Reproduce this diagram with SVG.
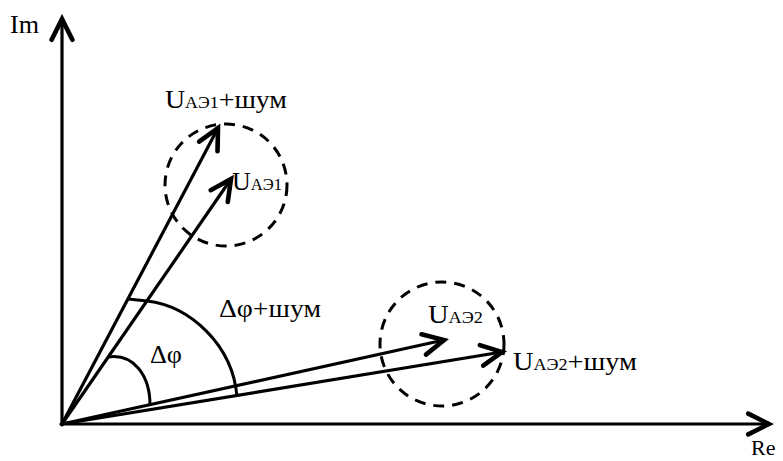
<svg xmlns="http://www.w3.org/2000/svg" width="783" height="461" viewBox="0 0 783 461">
<defs>
<style>
.ln{stroke:#000;stroke-width:3.2;fill:none;stroke-linecap:round}
.arc{stroke:#000;stroke-width:3;fill:none}
.dc{stroke:#000;stroke-width:3;fill:none;stroke-dasharray:11 8}
.t{font-family:"Liberation Serif","Times New Roman",serif;font-size:25px;fill:#000}
.s{font-size:16px}
</style>
<marker id="ah" markerUnits="userSpaceOnUse" markerWidth="30" markerHeight="30" viewBox="-22 -12 26 24" refX="0" refY="0" orient="auto">
<path d="M-18,-9 L0,0 L-18,9" fill="none" stroke="#000" stroke-width="4" stroke-linejoin="miter" stroke-linecap="round"/>
</marker>
</defs>
<g id="connectors">
<line id="axis-re" class="ln" x1="61" y1="424" x2="769" y2="424" marker-end="url(#ah)"/>
<line id="axis-im" class="ln" x1="62" y1="425" x2="62" y2="19" marker-end="url(#ah)"/>
<line id="v-ae1-noise" class="ln" x1="62" y1="424" x2="218" y2="128" marker-end="url(#ah)"/>
<line id="v-ae1" class="ln" x1="62" y1="424" x2="231" y2="179" marker-end="url(#ah)"/>
<line id="v-ae2" class="ln" x1="62" y1="424" x2="444" y2="340" marker-end="url(#ah)"/>
<line id="v-ae2-noise" class="ln" x1="62" y1="424" x2="502" y2="352" marker-end="url(#ah)"/>
<path id="arc-dphi" class="arc" d="M108,357 C133,353 150,375 150,405"/>
<path id="arc-dphi-noise" class="arc" d="M128,299 L147,301 C190,306 233,345 237,397"/>
</g>
<g id="circle1"><circle class="dc" cx="226" cy="185" r="61"/></g>
<g id="circle2"><circle class="dc" cx="442" cy="344" r="62"/></g>
<g id="label-im"><text class="t" x="10" y="33" textLength="29" lengthAdjust="spacingAndGlyphs">Im</text></g>
<g id="label-re"><text class="t" x="751" y="455" style="font-size:22px">Re</text></g>
<g id="label-ae1-noise"><text class="t" x="165" y="108" textLength="122" lengthAdjust="spacingAndGlyphs">U<tspan class="s">AЭ1</tspan>+шум</text></g>
<g id="label-ae1"><text class="t" x="232" y="190" textLength="50" lengthAdjust="spacingAndGlyphs">U<tspan class="s">AЭ1</tspan></text></g>
<g id="label-ae2"><text class="t" x="428" y="323" textLength="55" lengthAdjust="spacingAndGlyphs">U<tspan class="s">AЭ2</tspan></text></g>
<g id="label-ae2-noise"><text class="t" x="513" y="370" textLength="124" lengthAdjust="spacingAndGlyphs">U<tspan class="s">AЭ2</tspan>+шум</text></g>
<g id="label-dphi-noise"><text class="t" x="219" y="317" textLength="102" lengthAdjust="spacingAndGlyphs">Δφ+шум</text></g>
<g id="label-dphi"><text class="t" x="150" y="363" textLength="32" lengthAdjust="spacingAndGlyphs">Δφ</text></g>
</svg>
